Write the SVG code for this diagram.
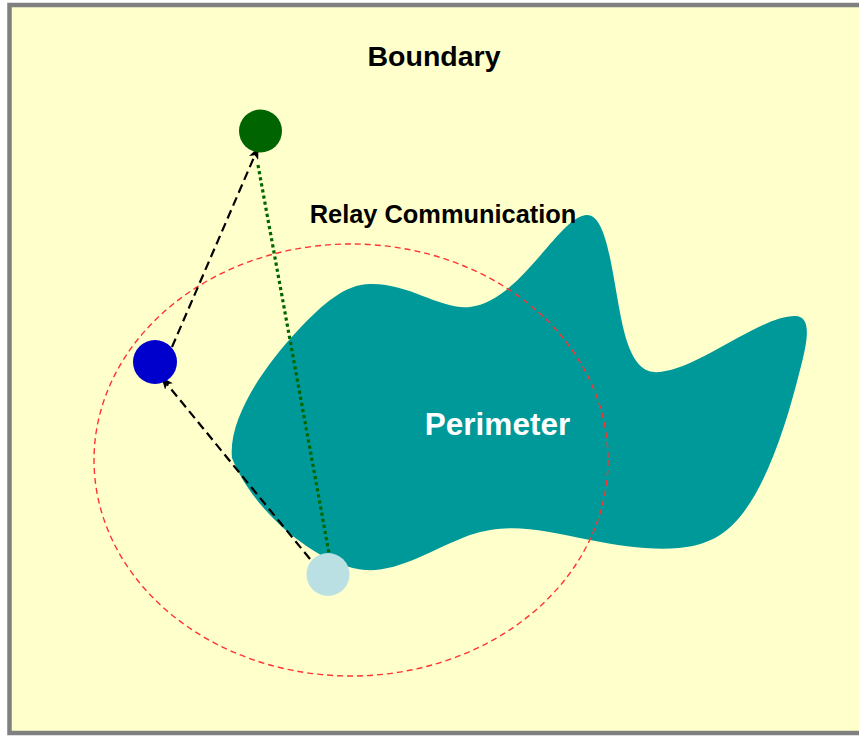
<svg xmlns="http://www.w3.org/2000/svg" width="859" height="736" viewBox="0 0 859 736">
<defs>
<style>
.lbl{font-family:"Liberation Sans",Arial,sans-serif;font-weight:bold;text-anchor:middle}
.relay{fill:none;stroke:#000;stroke-width:2.2;stroke-dasharray:9 5}
.direct{fill:none;stroke:#006600;stroke-width:3.2;stroke-dasharray:3.2 3}
</style>
<marker id="ah" viewBox="0 0 12 10" refX="11" refY="5" markerWidth="12" markerHeight="10" markerUnits="userSpaceOnUse" orient="auto">
<path d="M0,0 L12,5 L0,10 L3,5 z" fill="#000"/>
</marker>
</defs>
<rect x="9.5" y="5" width="860" height="728" fill="#FFFFCC" stroke="#808080" stroke-width="4.5"/>
<g id="perimeter">
<path d="M232 458 C228 420 262 368 300 328 C322 305 345 284 370 284 C410 283 440 310 470 307 C520 302 560 215 587 215 C610 215 613 290 625 335 C635 370 648 373 660 372 C700 368 760 316 795 316 C812 316 808 340 800 370 C785 430 760 510 720 535 C690 555 640 550 590 540 C540 530 510 522 470 535 C430 550 400 572 365 570 C320 566 255 515 232 458 Z" fill="#009999"/>
<text class="lbl" x="497.5" y="435" font-size="31.5" fill="#FFFFFF">Perimeter</text>
</g>
<g id="range">
<ellipse cx="351" cy="460" rx="257" ry="216" fill="none" stroke="#FF3333" stroke-width="1.4" stroke-dasharray="6 4"/>
</g>
<g id="labels">
<text class="lbl" x="434" y="66" font-size="28.5" fill="#000">Boundary</text>
<text class="lbl" x="443" y="223" font-size="25.4" fill="#000">Relay Communication</text>
</g>
<g id="connectors">
<line class="direct" x1="258" y1="165" x2="329" y2="553"/>
<line class="relay" x1="172" y1="347" x2="258" y2="148" marker-end="url(#ah)"/>
<line class="relay" x1="310" y1="559" x2="162" y2="378" marker-end="url(#ah)"/>
</g>
<g id="node-sink"><circle cx="260.5" cy="131" r="21.5" fill="#006400"/></g>
<g id="node-relay"><circle cx="155" cy="362" r="22" fill="#0000CC"/></g>
<g id="node-source"><circle cx="328" cy="574.5" r="21.5" fill="#BBE0E3"/></g>
</svg>
